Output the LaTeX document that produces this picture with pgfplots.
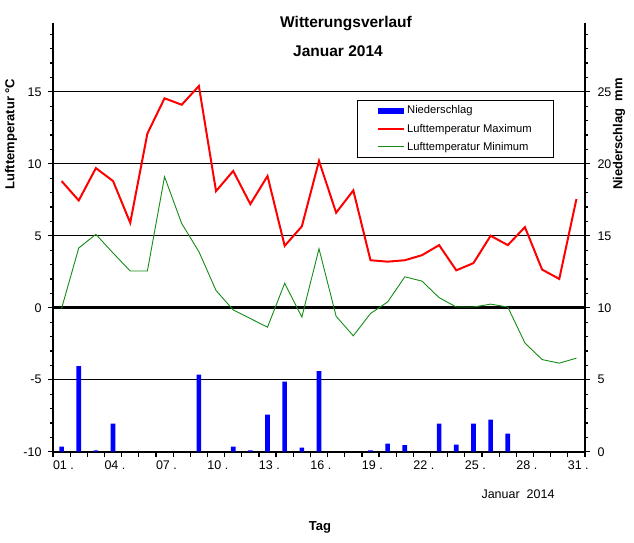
\documentclass[border=0pt]{standalone}
\usepackage{fontspec}
\setmainfont{Liberation Sans}
\usepackage{pgfplots}
\pgfplotsset{compat=1.18}
\definecolor{minc}{RGB}{20,140,20}
\pgfplotstableread{
day tmax tmin
1 8.8 -0.05
2 7.45 4.15
3 9.7 5.1
4 8.8 3.8
5 5.9 2.55
6 12.1 2.55
7 14.55 9.1
8 14.1 5.85
9 15.4 3.9
10 8.1 1.2
11 9.5 -0.15
12 7.2 -0.75
13 9.15 -1.35
14 4.3 1.7
15 5.65 -0.65
16 10.2 4.1
17 6.6 -0.6
18 8.15 -1.95
19 3.3 -0.4
20 3.2 0.4
21 3.3 2.15
22 3.65 1.85
23 4.35 0.7
24 2.6 0.05
25 3.1 0.05
26 5.0 0.25
27 4.35 0.05
28 5.6 -2.45
29 2.65 -3.6
30 2.0 -3.85
31 7.55 -3.5
}\temps
\pgfplotstableread{
day rr
1 0.35
2 5.95
3 0.1
4 1.95
9 5.35
11 0.35
12 0.1
13 2.57
14 4.86
15 0.28
16 5.6
19 0.1
20 0.56
21 0.46
23 1.95
24 0.49
25 1.95
26 2.22
27 1.25
}\rain
\begin{document}
\begin{tikzpicture}[x=1pt,y=1pt]
\path[use as bounding box] (0,0) rectangle (634,542);
\begin{axis}[
  at={(53pt,90.3pt)}, anchor=south west,
  scale only axis, width=532pt, height=429pt,
  xmin=0.5, xmax=31.5, ymin=-10, ymax=19.8,
  axis x line*=bottom, axis y line*=left,
  axis line style={line width=1.8pt, -},
  xtick={0.5,1.5,...,31.5},
  xticklabels={01 .,,,04 .,,,07 .,,,10 .,,,13 .,,,16 .,,,19 .,,,22 .,,,25 .,,,28 .,,,31 .,},
  xticklabel style={anchor=north west, xshift=-3.5pt, yshift=-1pt},
  yticklabel style={xshift=-3pt},
  ytick={-10,-5,...,15}, minor ytick={-9,-8,...,19},
  tick align=outside, major tick length=5pt, minor tick length=3pt,
  tick style={black, line width=1.2pt},
  ymajorgrids, grid style={black, line width=0.9pt},
  extra y ticks={0}, extra y tick labels={},
  extra y tick style={grid style={black, line width=2.6pt}},
  ticklabel style={font=\fontsize{12.5}{14}\selectfont},
  /pgf/number format/assume math mode=true,
]
\addplot[red, line width=2pt, mark=none] table[x=day, y=tmax] {\temps};
\addplot[minc, line width=0.9pt, mark=none] table[x=day, y=tmin] {\temps};
\end{axis}
\begin{axis}[
  at={(53pt,90.3pt)}, anchor=south west,
  scale only axis, width=532pt, height=429pt,
  xmin=0.5, xmax=31.5, ymin=0, ymax=29.8,
  axis x line=none, axis y line*=right,
  axis line style={line width=1.8pt, -},
  ytick={0,5,...,25}, minor ytick={1,2,...,29},
  yticklabel style={xshift=4pt},
  tick align=outside, major tick length=5pt, minor tick length=3pt,
  tick style={black, line width=1.2pt},
  ticklabel style={font=\fontsize{12.5}{14}\selectfont},
  /pgf/number format/assume math mode=true,
  legend style={at={(0.571,0.820)}, anchor=north west, draw=black, line width=0.8pt,
    inner xsep=20pt, inner ysep=3.5pt, row sep=4.5pt,
    font=\fontsize{11.2}{12.5}\selectfont, cells={anchor=west}},
]
\addplot[ybar, bar width=0.27, fill=blue, draw=none,
  legend image code/.code={\fill[blue] (0pt,-3pt) rectangle (26pt,3pt);}]
  table[x=day, y=rr] {\rain};
\addlegendentry{Niederschlag}
\addlegendimage{legend image code/.code={\draw[red, line width=2pt] (0pt,0pt) -- (26pt,0pt);}}
\addlegendentry{Lufttemperatur Maximum}
\addlegendimage{legend image code/.code={\draw[minc, line width=0.9pt] (0pt,0pt) -- (26pt,0pt);}}
\addlegendentry{Lufttemperatur Minimum}
\end{axis}
\node[font=\bfseries\fontsize{15.5}{18}\selectfont, anchor=base] at (346,514) {Witterungsverlauf};
\node[font=\bfseries\fontsize{15.5}{18}\selectfont, anchor=base] at (338,485) {Januar 2014};
\node[font=\bfseries\fontsize{13}{15}\selectfont, rotate=90] at (11,408) {Lufttemperatur °C};
\node[font=\bfseries\fontsize{13}{15}\selectfont, rotate=90] at (619,408) {Niederschlag\ \ mm};
\node[font=\bfseries\fontsize{13}{15}\selectfont] at (320,15) {Tag};
\node[font=\fontsize{12.5}{15}\selectfont] at (518,48) {Januar\ \ 2014};
\end{tikzpicture}
\end{document}
